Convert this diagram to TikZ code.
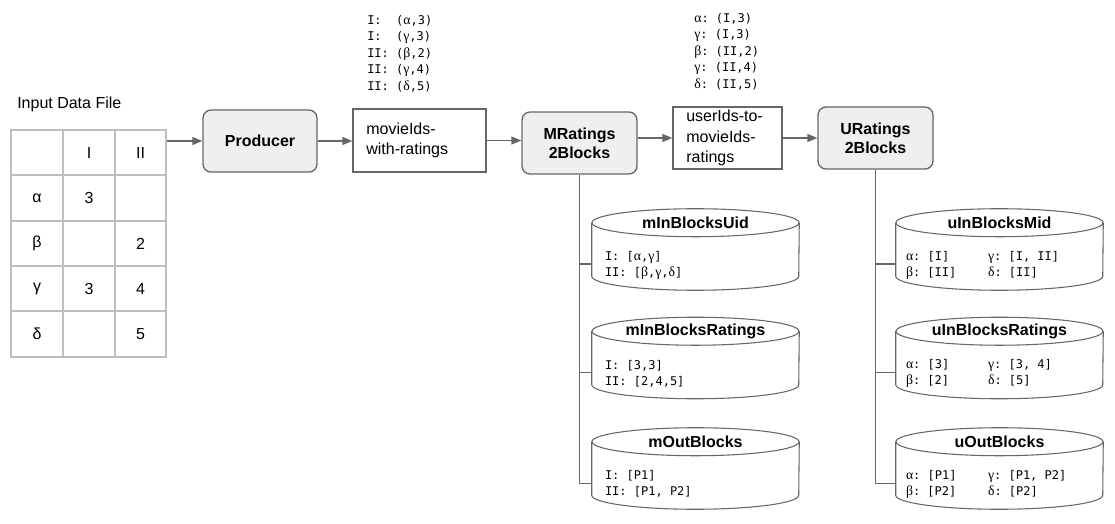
\documentclass[tikz,border=0pt]{standalone}
\usepackage{fontspec}
\setmainfont{Liberation Sans}
\setmonofont{DejaVu Sans Mono}
\newfontfamily\grk[Scale=1.15]{Liberation Serif}
\usetikzlibrary{arrows.meta}
\definecolor{linegray}{RGB}{102,102,102}
\definecolor{boxfill}{RGB}{239,239,239}
\definecolor{gridgray}{RGB}{190,190,190}
\newcommand{\pairrow}[2]{\makebox[61.5pt][l]{#1}#2}
\newcommand{\ga}{{\grk α}}
\newcommand{\gb}{{\grk β}}
\newcommand{\gc}{{\grk γ}}
\newcommand{\gd}{{\grk δ}}
\begin{document}
\begin{tikzpicture}[x=0.75pt,y=0.75pt,yscale=-1,xscale=1,
  link/.style={draw=linegray,line width=1pt,-{Triangle[length=7.5pt,width=6pt]}},
  stem/.style={draw=linegray,line width=1pt},
  gridline/.style={draw=gridgray,line width=0.8pt},
  cylline/.style={draw=linegray,line width=0.8pt},
  procbox/.style={draw=linegray,line width=1pt,fill=boxfill,rounded corners=6pt,font=\fontsize{12}{14.5}\selectfont\bfseries,align=center,inner sep=0pt},
  databox/.style={draw=linegray,line width=1pt,font=\fontsize{12}{15.4}\selectfont,align=left,inner xsep=10pt,inner ysep=0pt},
  store/.style={minimum width=155.25pt,minimum height=60.75pt,inner sep=0pt},
  storetitle/.style={font=\fontsize{12}{14}\selectfont\bfseries,inner sep=0pt},
  storebody/.style={font=\fontsize{9}{12}\selectfont\ttfamily,align=left,anchor=west,inner sep=0pt},
  pairs/.style={font=\fontsize{9}{12.4}\selectfont\ttfamily,align=left,anchor=north west,inner sep=0pt},
  cell/.style={font=\fontsize{12}{14}\selectfont,inner sep=0pt}]
\useasboundingbox (0,0) rectangle (1115,524);

% Text Node
\node[cell,anchor=west] (inlabel) at (17,104) {Input Data File};
%Shape: Table
\node[draw=gridgray,line width=0.8pt,minimum width=116.25pt,minimum height=170.25pt,inner sep=0pt] (tbl) at (88.5,243.5) {};
\foreach \gx in {63,115} \draw[gridline] (\gx,130) -- (\gx,357);
\foreach \gy in {175,221,266,311} \draw[gridline] (11,\gy) -- (166,\gy);
\foreach \cx/\cy/\ct in {89/152.5/I,140.5/152.5/II,37/198/α,89/198/3,37/243.5/β,140.5/243.5/2,37/288.5/γ,89/288.5/3,140.5/288.5/4,37/334/δ,140.5/334/5}
  \node[cell] at (\cx,\cy) {\ct};

%Shape: Boxes
\node[procbox,minimum width=85.5pt,minimum height=46.5pt] (prod) at (260,141) {Producer};
\node[databox,text width=79.75pt,minimum height=47.25pt] (mwr) at (419.5,140.5) {movieIds-\\with-ratings};
\node[procbox,minimum width=86.25pt,minimum height=46.5pt] (mrb) at (579.5,143) {MRatings\\2Blocks};
\node[databox,text width=61.75pt,minimum height=46.5pt] (uim) at (727.5,138) {userIds-to-\\movieIds-\\ratings};
\node[procbox,minimum width=86.25pt,minimum height=46.5pt] (urb) at (875.5,138) {URatings\\2Blocks};

% Text Node
\node[pairs] (mpairs) at (367,15) {I:~~(\ga,3)\\I:~~(\gc,3)\\II:~(\gb,2)\\II:~(\gc,4)\\II:~(\gd,5)};
% Text Node
\node[pairs] (upairs) at (694,13) {\ga:~(I,3)\\\gc:~(I,3)\\\gb:~(II,2)\\\gc:~(II,4)\\\gd:~(II,5)};

%Straight Lines
\draw[link] (tbl.east |- prod.west) -- (prod.west);
\draw[link] (prod.east) -- (mwr.west |- prod.east);
\draw[link] (mwr.east) -- (mwr.east -| mrb.west);
\draw[link] (mrb.east |- uim.west) -- (uim.west);
\draw[link] (uim.east) -- (urb.west);

%Shape: Cylinders
\node[store] (mub) at (695.5,249.5) {};
\node[store] (mrt) at (695.5,358) {};
\node[store] (mob) at (695.5,468.5) {};
\node[store] (uub) at (999.5,249.5) {};
\node[store] (urt) at (999.5,358) {};
\node[store] (uob) at (999.5,468.5) {};
\foreach \cyl in {mub,mrt,mob,uub,urt,uob} {
  \draw[cylline] ([yshift=10.5pt]\cyl.north) ellipse [x radius=103.5,y radius=14];
  \draw[cylline] ([yshift=10.5pt]\cyl.north west) -- ([yshift=-10.5pt]\cyl.south west)
    arc[start angle=180,end angle=0,x radius=103.5,y radius=14] -- ([yshift=10.5pt]\cyl.north east);
}

%Straight Lines
\foreach \cyl in {mub,mrt,mob} \draw[stem] (mrb.south) |- ([yshift=11pt]\cyl.west);
\foreach \cyl in {uub,urt,uob} \draw[stem] (urb.south) |- ([yshift=11pt]\cyl.west);

% Text Node
\node[storetitle] (mubt) at ([yshift=10.5pt]mub.north) {mInBlocksUid};
\node[storetitle] (mrtt) at ([yshift=10.5pt]mrt.north) {mInBlocksRatings};
\node[storetitle] (mobt) at ([yshift=10.5pt]mob.north) {mOutBlocks};
\node[storetitle] (uubt) at ([yshift=10.5pt]uub.north) {uInBlocksMid};
\node[storetitle] (urtt) at ([yshift=10.5pt]urt.north) {uInBlocksRatings};
\node[storetitle] (uobt) at ([yshift=10.5pt]uob.north) {uOutBlocks};
% Text Node
\node[storebody] (mubb) at ([xshift=9.75pt,yshift=11.6pt]mub.west) {I:~[\ga,\gc]\\II:~[\gb,\gc,\gd]};
\node[storebody] (mrtb) at ([xshift=9.75pt,yshift=11.6pt]mrt.west) {I:~[3,3]\\II:~[2,4,5]};
\node[storebody] (mobb) at ([xshift=9.75pt,yshift=11.6pt]mob.west) {I:~[P1]\\II:~[P1,~P2]};
\node[storebody] (uubb) at ([xshift=7.5pt,yshift=11.6pt]uub.west) {\pairrow{\ga:~[I]}{\gc:~[I,~II]}\\\pairrow{\gb:~[II]}{\gd:~[II]}};
\node[storebody] (urtb) at ([xshift=7.5pt,yshift=11.6pt]urt.west) {\pairrow{\ga:~[3]}{\gc:~[3,~4]}\\\pairrow{\gb:~[2]}{\gd:~[5]}};
\node[storebody] (uobb) at ([xshift=7.5pt,yshift=11.6pt]uob.west) {\pairrow{\ga:~[P1]}{\gc:~[P1,~P2]}\\\pairrow{\gb:~[P2]}{\gd:~[P2]}};
\end{tikzpicture}
\end{document}
